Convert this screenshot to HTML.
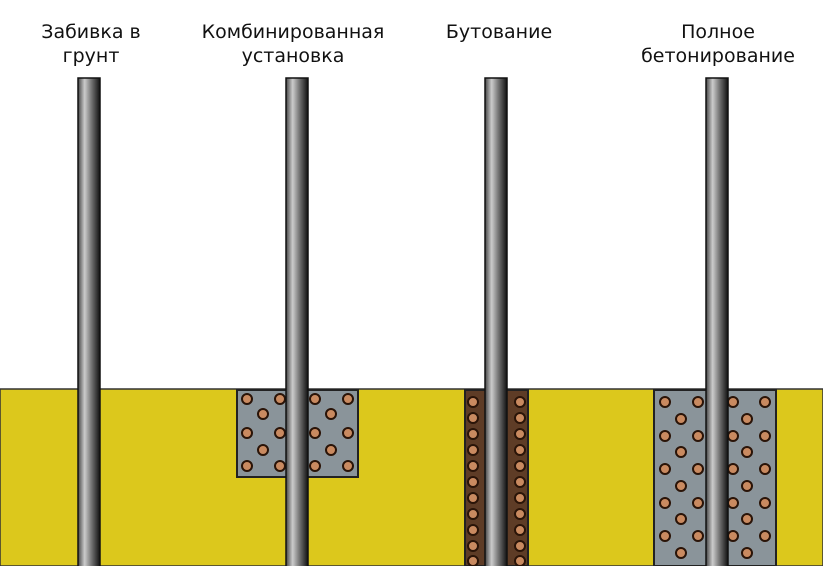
<!DOCTYPE html>
<html><head><meta charset="utf-8"><style>
html,body{margin:0;padding:0;background:#fff;}
svg{display:block}
text{font-family:"DejaVu Sans","Liberation Sans",sans-serif;font-size:19px;fill:#111;text-anchor:middle}
</style></head><body>
<svg width="823" height="566" viewBox="0 0 823 566">
<defs>
<linearGradient id="pg" x1="0" x2="1">
<stop offset="0" stop-color="#444"/><stop offset="0.3" stop-color="#ccc"/><stop offset="0.6" stop-color="#777"/><stop offset="1" stop-color="#111"/>
</linearGradient>
<g id="c"><circle r="5" fill="#c98a60" stroke="#2a1408" stroke-width="2"/></g>
</defs>
<text x="91" y="38">Забивка в</text>
<text x="91" y="62">грунт</text>
<text x="293" y="38">Комбинированная</text>
<text x="293" y="62">установка</text>
<text x="499" y="38">Бутование</text>
<text x="718" y="38">Полное</text>
<text x="718" y="62">бетонирование</text>

<rect x="0" y="389" width="823" height="177" fill="#dcc81c" stroke="#333" stroke-width="1.5"/>

<rect x="237" y="390" width="121" height="87" fill="#8a949a" stroke="#222" stroke-width="2"/>
<g>
<use href="#c" x="247" y="399"/><use href="#c" x="280" y="399"/><use href="#c" x="315" y="399"/><use href="#c" x="348" y="399"/>
<use href="#c" x="247" y="433"/><use href="#c" x="280" y="433"/><use href="#c" x="315" y="433"/><use href="#c" x="348" y="433"/>
<use href="#c" x="247" y="466"/><use href="#c" x="280" y="466"/><use href="#c" x="315" y="466"/><use href="#c" x="348" y="466"/>
<use href="#c" x="263" y="414"/><use href="#c" x="331" y="414"/><use href="#c" x="263" y="450"/><use href="#c" x="331" y="450"/>
</g>

<rect x="465" y="390" width="63" height="176" fill="#5e3c26" stroke="#222" stroke-width="2"/>
<g>
<use href="#c" x="473" y="402"/><use href="#c" x="520" y="402"/>
<use href="#c" x="473" y="418"/><use href="#c" x="520" y="418"/>
<use href="#c" x="473" y="434"/><use href="#c" x="520" y="434"/>
<use href="#c" x="473" y="450"/><use href="#c" x="520" y="450"/>
<use href="#c" x="473" y="466"/><use href="#c" x="520" y="466"/>
<use href="#c" x="473" y="482"/><use href="#c" x="520" y="482"/>
<use href="#c" x="473" y="498"/><use href="#c" x="520" y="498"/>
<use href="#c" x="473" y="514"/><use href="#c" x="520" y="514"/>
<use href="#c" x="473" y="530"/><use href="#c" x="520" y="530"/>
<use href="#c" x="473" y="546"/><use href="#c" x="520" y="546"/>
<use href="#c" x="473" y="561"/><use href="#c" x="520" y="561"/>
</g>

<rect x="654" y="390" width="122" height="176" fill="#8a949a" stroke="#222" stroke-width="2"/>
<g>
<use href="#c" x="665" y="402"/><use href="#c" x="698" y="402"/><use href="#c" x="733" y="402"/><use href="#c" x="765" y="402"/>
<use href="#c" x="665" y="436"/><use href="#c" x="698" y="436"/><use href="#c" x="733" y="436"/><use href="#c" x="765" y="436"/>
<use href="#c" x="665" y="469"/><use href="#c" x="698" y="469"/><use href="#c" x="733" y="469"/><use href="#c" x="765" y="469"/>
<use href="#c" x="665" y="503"/><use href="#c" x="698" y="503"/><use href="#c" x="733" y="503"/><use href="#c" x="765" y="503"/>
<use href="#c" x="665" y="536"/><use href="#c" x="698" y="536"/><use href="#c" x="733" y="536"/><use href="#c" x="765" y="536"/>
<use href="#c" x="681" y="419"/><use href="#c" x="747" y="419"/>
<use href="#c" x="681" y="452"/><use href="#c" x="747" y="452"/>
<use href="#c" x="681" y="486"/><use href="#c" x="747" y="486"/>
<use href="#c" x="681" y="519"/><use href="#c" x="747" y="519"/>
<use href="#c" x="681" y="553"/><use href="#c" x="747" y="553"/>
</g>

<rect x="78" y="78" width="22" height="490" fill="url(#pg)" stroke="#111" stroke-width="1.5"/>
<rect x="286" y="78" width="22" height="490" fill="url(#pg)" stroke="#111" stroke-width="1.5"/>
<rect x="485" y="78" width="22" height="490" fill="url(#pg)" stroke="#111" stroke-width="1.5"/>
<rect x="706" y="78" width="22" height="490" fill="url(#pg)" stroke="#111" stroke-width="1.5"/>
</svg>
</body></html>
